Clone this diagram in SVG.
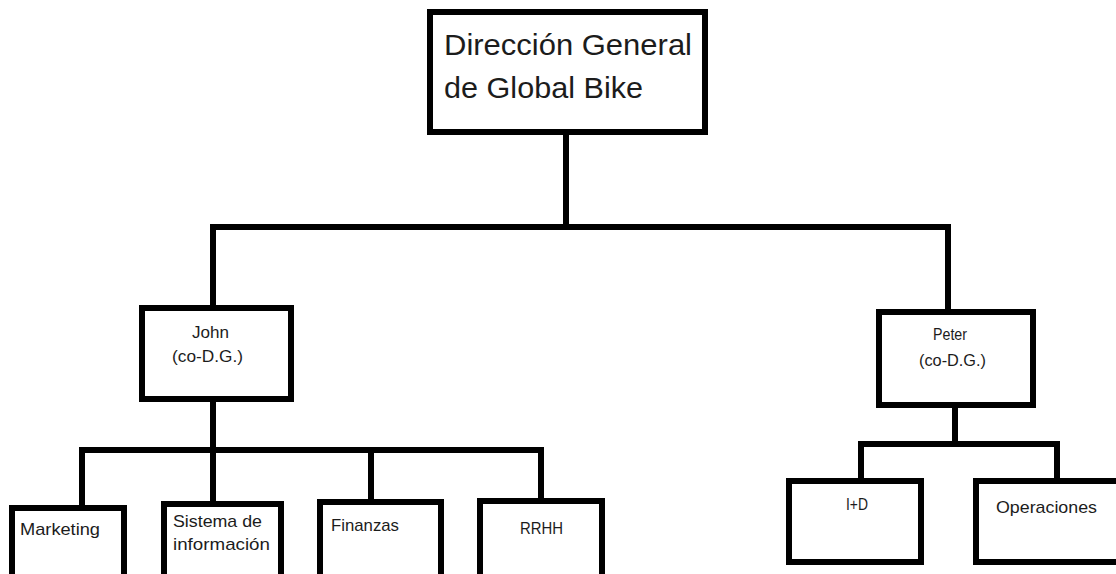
<svg xmlns="http://www.w3.org/2000/svg" width="1116" height="574" viewBox="0 0 1116 574">
<style>
.box{fill:#fff;stroke:#000;stroke-width:6}
.ln{fill:none;stroke:#000;stroke-width:6;stroke-linejoin:miter;stroke-linecap:square}
.t{font-family:"Liberation Sans",Arial,sans-serif;fill:#1c1c1c}
.big{font-size:30px}
.sm{font-size:17px}
</style>
<rect width="1116" height="574" fill="#fff"/>
<g id="connectors">
<path class="ln" d="M566,135 V227 M213,227 H948 M213,227 V305 M948,227 V309"/>
<path class="ln" d="M213,402 V501 M82,450 H541 M82,450 V505 M371,450 V499 M541,450 V498"/>
<path class="ln" d="M955,408 V444 M861,444 H1057 M861,444 V478 M1057,444 V478"/>
</g>
<g id="n-direccion">
<rect class="box" x="430" y="12" width="275" height="120"/>
<text class="t big" x="444" y="55" textLength="248" lengthAdjust="spacingAndGlyphs">Dirección General</text>
<text class="t big" x="444" y="98" textLength="199" lengthAdjust="spacingAndGlyphs">de Global Bike</text>
</g>
<g id="n-john">
<rect class="box" x="142" y="308" width="149" height="91"/>
<text class="t sm" x="192" y="338" textLength="37" lengthAdjust="spacingAndGlyphs">John</text>
<text class="t sm" x="172" y="362" textLength="71" lengthAdjust="spacingAndGlyphs">(co-D.G.)</text>
</g>
<g id="n-peter">
<rect class="box" x="879" y="312" width="154" height="93"/>
<text class="t sm" x="933" y="340" textLength="34" lengthAdjust="spacingAndGlyphs">Peter</text>
<text class="t sm" x="919" y="366" textLength="67" lengthAdjust="spacingAndGlyphs">(co-D.G.)</text>
</g>
<g id="n-marketing">
<rect class="box" x="12" y="508" width="112" height="80"/>
<text class="t sm" x="20" y="535" textLength="80" lengthAdjust="spacingAndGlyphs">Marketing</text>
</g>
<g id="n-sistema">
<rect class="box" x="164" y="504" width="117" height="84"/>
<text class="t sm" x="173" y="527" textLength="89" lengthAdjust="spacingAndGlyphs">Sistema de</text>
<text class="t sm" x="173" y="550" textLength="97" lengthAdjust="spacingAndGlyphs">información</text>
</g>
<g id="n-finanzas">
<rect class="box" x="320" y="502" width="121" height="86"/>
<text class="t sm" x="331" y="531" textLength="68" lengthAdjust="spacingAndGlyphs">Finanzas</text>
</g>
<g id="n-rrhh">
<rect class="box" x="480" y="501" width="122" height="87"/>
<text class="t sm" x="520" y="534" textLength="43" lengthAdjust="spacingAndGlyphs">RRHH</text>
</g>
<g id="n-id">
<rect class="box" x="789" y="481" width="132" height="81"/>
<text class="t sm" x="846" y="510" textLength="22" lengthAdjust="spacingAndGlyphs">I+D</text>
</g>
<g id="n-operaciones">
<rect class="box" x="976" y="481" width="150" height="81"/>
<text class="t sm" x="996" y="513" textLength="101" lengthAdjust="spacingAndGlyphs">Operaciones</text>
</g>
</svg>
